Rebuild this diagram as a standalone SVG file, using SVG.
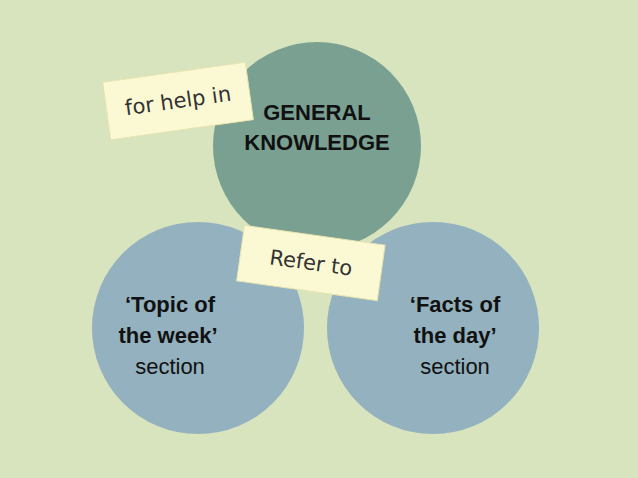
<svg xmlns="http://www.w3.org/2000/svg" width="638" height="478" viewBox="0 0 638 478">
<style>
.b{font-family:"Liberation Sans",Arial,sans-serif;font-size:22px;font-weight:bold;fill:#111;text-anchor:middle}
.n{font-family:"Liberation Sans",Arial,sans-serif;font-size:22px;fill:#111;text-anchor:middle}
.h{font-family:"DejaVu Sans",sans-serif;font-size:21px;fill:#333;text-anchor:middle}
.note{fill:#fbf9d3;stroke:#e8e4b0;stroke-width:1}
</style>
<rect width="638" height="478" fill="#d7e4bd"/>
<g id="general"><circle cx="317" cy="146" r="104" fill="#7aa092"/>
<text class="b" x="317" y="120">GENERAL</text><text class="b" x="317" y="150">KNOWLEDGE</text></g>
<g id="topic"><circle cx="198" cy="328" r="106" fill="#93b1be"/>
<text class="b" x="170" y="312">‘Topic of</text><text class="b" x="168" y="343">the week’</text><text class="n" x="170" y="374">section</text></g>
<g id="facts"><circle cx="433" cy="328" r="106" fill="#93b1be"/>
<text class="b" x="455" y="312">‘Facts of</text><text class="b" x="455" y="343">the day’</text><text class="n" x="455" y="374">section</text></g>
<g id="note1" transform="rotate(-8 178 101)"><rect class="note" x="106" y="72" width="144" height="58"/><text class="h" x="178" y="108">for help in</text></g>
<g id="note2" transform="rotate(8 311 262)"><rect class="note" x="240" y="235" width="142" height="56"/><text class="h" x="311" y="270">Refer to</text></g>
<g id="connectors"/>
</svg>
